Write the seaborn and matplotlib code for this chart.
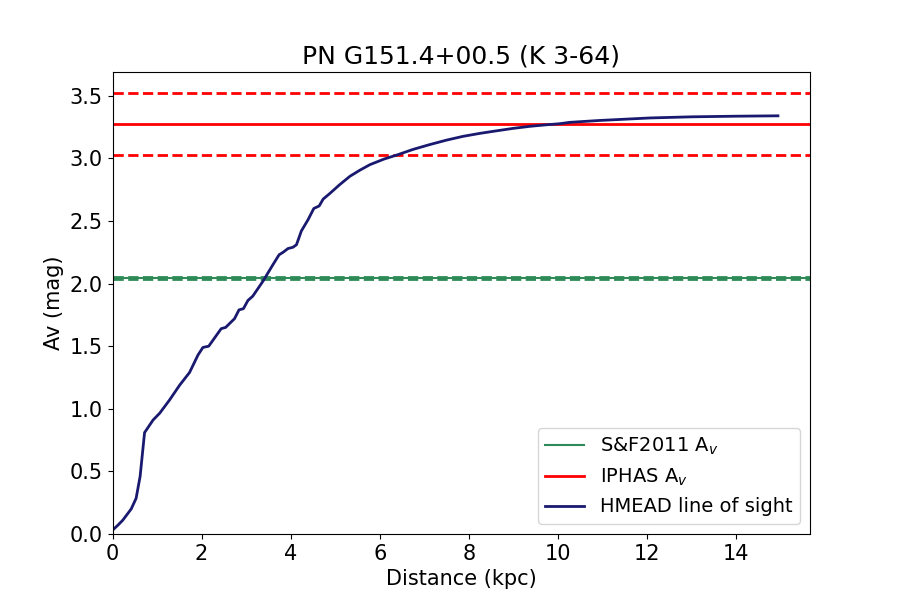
import matplotlib
matplotlib.use("Agg")
import matplotlib.pyplot as plt
import seaborn as sns
import pandas as pd

distance = [0.0, 0.12, 0.23, 0.42, 0.53, 0.62, 0.72, 0.91, 1.06, 1.28, 1.51, 1.73, 1.92,
            2.03, 2.16, 2.44, 2.54, 2.74, 2.84, 2.94, 3.04, 3.15, 3.38, 3.60, 3.74, 3.83,
            3.94, 4.05, 4.13, 4.24, 4.39, 4.52, 4.64, 4.73, 4.88, 5.10, 5.33, 5.55, 5.78,
            6.10, 6.41, 6.75, 7.12, 7.50, 7.87, 8.25, 8.62, 9.0, 9.37, 9.70, 10.04, 10.27,
            10.94, 12.07, 13.0, 14.0, 14.94]
av = [0.03, 0.07, 0.11, 0.20, 0.285, 0.46, 0.81, 0.91, 0.965, 1.07, 1.19, 1.29, 1.43,
      1.49, 1.50, 1.64, 1.65, 1.72, 1.79, 1.80, 1.865, 1.90, 2.02, 2.15, 2.23, 2.25,
      2.28, 2.29, 2.31, 2.42, 2.51, 2.60, 2.62, 2.675, 2.72, 2.79, 2.857, 2.905, 2.95,
      2.995, 3.03, 3.072, 3.11, 3.146, 3.176, 3.20, 3.22, 3.24, 3.256, 3.267, 3.277, 3.288,
      3.303, 3.323, 3.332, 3.337, 3.34]

sf_av = 2.045
sf_lo = 2.037
sf_hi = 2.053
iphas_av = 3.277
iphas_lo = 3.03
iphas_hi = 3.52

title = "PN G151.4+00.5 (K 3-64)"

df = pd.DataFrame({"Distance": distance, "Av": av})

fig, ax = plt.subplots(figsize=(9, 6), dpi=100)

ax.axhline(sf_av, color="seagreen", lw=1.5, label="S&F2011 A$_v$")
ax.axhline(sf_lo, color="seagreen", lw=2, ls="--")
ax.axhline(sf_hi, color="seagreen", lw=2, ls="--")
ax.axhline(iphas_av, color="red", lw=2, label="IPHAS A$_v$")
ax.axhline(iphas_lo, color="red", lw=2, ls="--")
ax.axhline(iphas_hi, color="red", lw=2, ls="--")
sns.lineplot(data=df, x="Distance", y="Av", color="midnightblue", lw=2,
             label="HMEAD line of sight", ax=ax)

ax.set_xlim(0, 15.66)
ax.set_ylim(0, 3.69)
ax.set_xlabel("Distance (kpc)", fontsize=15)
ax.set_ylabel("Av (mag)", fontsize=15)
ax.set_title(title, fontsize=18)
ax.tick_params(labelsize=15)
ax.legend(loc="lower right", fontsize=14)

fig.savefig("out.png", dpi=100)
